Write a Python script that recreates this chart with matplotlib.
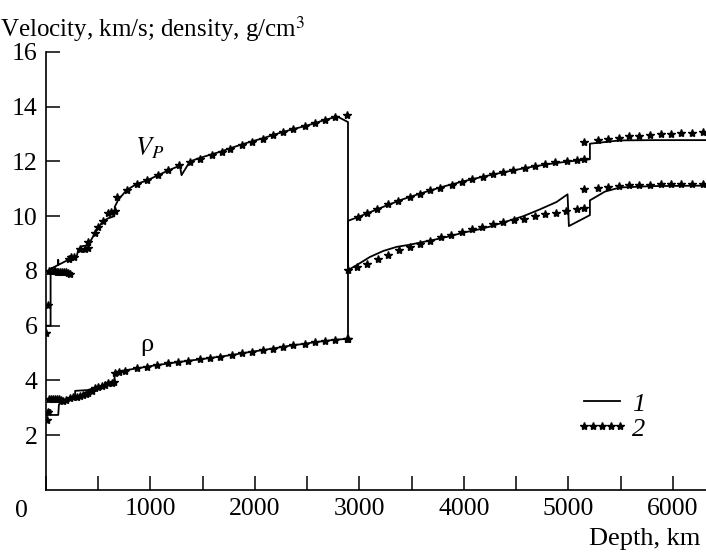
import matplotlib
matplotlib.use("Agg")
import matplotlib.pyplot as plt
from matplotlib.ticker import MultipleLocator

plt.rcParams["font.family"] = ["Liberation Serif", "DejaVu Serif"]
plt.rcParams["mathtext.fontset"] = "stix"

# model 1 (solid line): P velocity, mantle then core
vp1_depth = [0, 45, 45, 118, 118, 118, 262, 294, 310, 341, 421, 425, 469, 500, 549,
             600, 655, 660, 692, 772, 868, 963, 1075, 1170, 1282, 1298, 1378, 1474,
             1585, 1681, 1777, 1873, 1984, 2080, 2175, 2271, 2383, 2478, 2574, 2670,
             2790, 2891, 2891, 2973, 3100, 3228, 3356, 3483, 3611, 3739, 3866, 3993,
             4121, 4249, 4376, 4568, 4727, 4887, 4992, 5005, 5206, 5206, 5350, 5493,
             5800, 6371]
vp1 = [6.0, 6.0, 8.08, 8.22, 8.4, 8.22, 8.5, 8.52, 8.78, 8.9, 8.95, 9.08, 9.38, 9.58,
       9.83, 9.93, 10.0, 10.35, 10.6, 10.95, 11.18, 11.3, 11.5, 11.67, 11.85, 11.5,
       12.0, 12.13, 12.26, 12.37, 12.5, 12.62, 12.75, 12.85, 12.97, 13.08, 13.2,
       13.29, 13.4, 13.52, 13.64, 13.44, 8.03, 8.21, 8.51, 8.73, 8.88, 8.96, 9.06,
       9.16, 9.27, 9.4, 9.5, 9.62, 9.77, 10.0, 10.25, 10.52, 10.8, 9.64, 10.04, 10.58,
       10.9, 11.05, 11.1, 11.12]

# model 1 (solid line): density, mantle then core
rho1_depth = [0, 20, 20, 45, 45, 118, 125, 166, 230, 280, 280, 400, 485, 612, 655,
              660, 756, 868, 963, 1059, 1170, 1266, 1362, 1474, 1569, 1665, 1777,
              1873, 1968, 2080, 2175, 2271, 2367, 2478, 2574, 2670, 2766, 2891, 2891,
              3000, 3200, 3400, 3600, 3800, 4000, 4200, 4400, 4600, 4800, 5000, 5206,
              5206, 5493, 5800, 6371]
rho1 = [2.72, 2.72, 2.92, 2.92, 2.74, 2.74, 3.12, 3.25, 3.34, 3.42, 3.62, 3.65, 3.75,
        3.9, 3.93, 4.3, 4.37, 4.44, 4.5, 4.56, 4.62, 4.67, 4.72, 4.77, 4.82, 4.87,
        4.93, 4.99, 5.05, 5.11, 5.17, 5.23, 5.29, 5.34, 5.4, 5.44, 5.49, 5.52, 9.83,
        9.99, 10.3, 10.6, 10.85, 11.08, 11.28, 11.46, 11.62, 11.77, 11.9, 12.0, 12.08,
        12.65, 12.77, 12.78, 12.78]

# model 2 (stars): P velocity
vp2_depth = [5, 22, 30, 45, 60, 75, 90, 105, 120, 135, 150, 170, 190, 210, 230, 220,
             245, 270, 325, 373, 405, 405, 469, 500, 549, 593, 622, 660, 682, 772,
             874, 970, 1075, 1171, 1276, 1378, 1474, 1585, 1681, 1761, 1873, 1968,
             2080, 2175, 2271, 2367, 2478, 2574, 2670, 2766, 2877,
             2893, 2973, 3075, 3174, 3276, 3378, 3483, 3579, 3675, 3777, 3876, 3978,
             4080, 4178, 4281, 4376, 4478, 4577, 4679, 4775, 4877, 4976, 5078, 5150,
             5150, 5285, 5381, 5483, 5582, 5677, 5780, 5882, 5978, 6080, 6182, 6284]
vp2 = [5.75, 6.75, 8.0, 8.0, 8.0, 8.0, 8.0, 7.98, 7.98, 7.97, 7.97, 7.96, 7.95, 7.93,
       7.9, 8.45, 8.5, 8.52, 8.8, 8.8, 8.84, 9.06, 9.38, 9.6, 9.83, 10.12, 10.15,
       10.18, 10.7, 10.97, 11.19, 11.34, 11.52, 11.68, 11.86, 11.98, 12.1, 12.23,
       12.35, 12.47, 12.59, 12.71, 12.83, 12.96, 13.08, 13.2, 13.28, 13.4, 13.53,
       13.62, 13.69,
       8.03, 8.15, 8.27, 8.43, 8.58, 8.76, 8.88, 9.0, 9.1, 9.25, 9.33, 9.43, 9.53,
       9.62, 9.72, 9.8, 9.85, 9.91, 10.01, 10.07, 10.13, 10.19, 10.28, 10.3, 10.99,
       11.03, 11.07, 11.11, 11.13, 11.14, 11.15, 11.16, 11.17, 11.18, 11.19, 11.19]

# model 2 (stars): density
rho2_depth = [6, 20, 30, 45, 65, 85, 105, 125, 145, 166, 190, 230, 262, 294, 325, 357,
              380, 405, 437, 469, 500, 533, 565, 596, 628, 655, 665, 700, 756, 868,
              963, 1059, 1170, 1266, 1362, 1474, 1569, 1665, 1777, 1873, 1968, 2080,
              2175, 2271, 2367, 2478, 2574, 2670, 2766, 2877, 2893,
              2989, 3069, 3165, 3276, 3372, 3483, 3579, 3675, 3770, 3882, 3978, 4074,
              4185, 4281, 4376, 4472, 4584, 4679, 4775, 4871, 4983, 5078, 5150, 5150,
              5285, 5381, 5483, 5582, 5677, 5780, 5882, 5978, 6080, 6182, 6284]
rho2 = [2.55, 2.86, 3.31, 3.31, 3.31, 3.31, 3.31, 3.31, 3.3, 3.26, 3.3, 3.35, 3.38,
        3.41, 3.44, 3.47, 3.5, 3.53, 3.62, 3.71, 3.76, 3.8, 3.85, 3.89, 3.91, 3.93,
        4.28, 4.32, 4.36, 4.44, 4.5, 4.56, 4.62, 4.67, 4.72, 4.77, 4.82, 4.87, 4.93,
        4.99, 5.04, 5.1, 5.16, 5.22, 5.28, 5.33, 5.39, 5.43, 5.48, 5.52, 5.5,
        9.98, 10.1, 10.26, 10.43, 10.56, 10.71, 10.83, 10.95, 11.03, 11.15, 11.26,
        11.36, 11.45, 11.55, 11.63, 11.68, 11.76, 11.84, 11.92, 11.98, 12.02, 12.07,
        12.1, 12.71, 12.77, 12.81, 12.87, 12.92, 12.94, 12.97, 12.99, 13.02, 13.04,
        13.05, 13.06]

fig = plt.figure(figsize=(7.06, 5.53), dpi=100)
ax = fig.add_axes([0.065, 0.114, 0.943, 0.792])

ax.plot(vp1_depth, vp1, color="black", lw=1.3, label="1")
ax.plot(rho1_depth, rho1, color="black", lw=1.3)
ax.plot(vp2_depth, vp2, ls="none", marker="*", ms=6, color="black", label="2")
ax.plot(rho2_depth, rho2, ls="none", marker="*", ms=6, color="black")

ax.set_xlim(0, 6371)
ax.set_ylim(0, 16)
ax.spines["top"].set_visible(False)
ax.spines["right"].set_visible(False)
ax.spines["left"].set_linewidth(1.2)
ax.spines["bottom"].set_linewidth(1.2)

ax.set_xticks([1000, 2000, 3000, 4000, 5000, 6000])
ax.xaxis.set_minor_locator(MultipleLocator(500))
ax.set_yticks([2, 4, 6, 8, 10, 12, 14, 16])
ax.tick_params(which="both", direction="in", length=10, width=1.1, labelsize=18.5)
ax.tick_params(axis="x", which="both", pad=6)
ax.tick_params(axis="y", pad=6)

ax.text(-0.036, -0.022, "0", transform=ax.transAxes, fontsize=18.5,
        ha="center", va="top")
fig.text(0.0, 0.975, "Velocity, km/s; density, g/cm$^3$", fontsize=18,
         ha="left", va="top")
fig.text(0.992, 0.005, "Depth, km", fontsize=19, ha="right", va="bottom")

ax.text(850, 12.5, "$V_P$", fontsize=19, va="center")
ax.text(900, 5.3, "ρ", fontsize=19, va="center")

ax.legend(loc="center left", bbox_to_anchor=(0.76, 0.168), frameon=False,
          numpoints=5, handlelength=2.0, handletextpad=0.15, labelspacing=0.05,
          prop={"family": "Liberation Serif", "style": "italic", "size": 19})

fig.savefig("out.png", dpi=100)
